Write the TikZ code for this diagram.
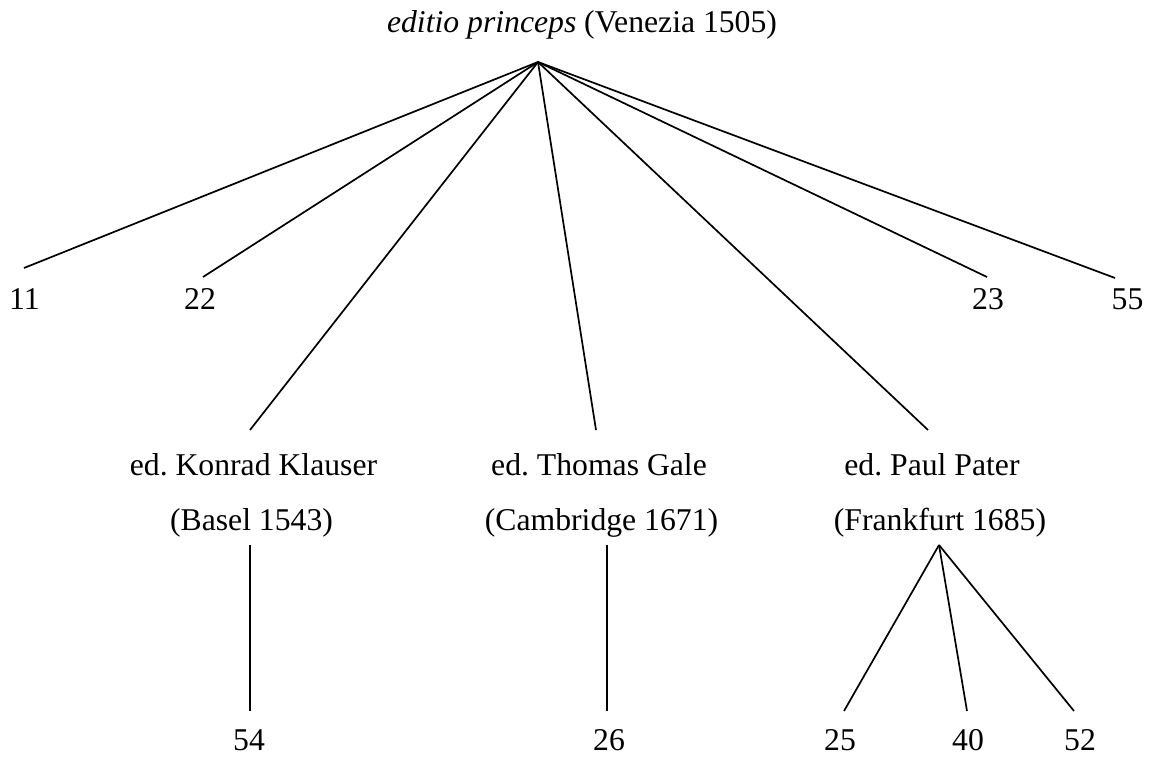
\documentclass[tikz,border=0pt]{standalone}
\usepackage{fontspec}
\setmainfont{Liberation Serif}
\frenchspacing
\begin{document}
\begin{tikzpicture}[x=1pt,y=-1pt,
  lbl/.style={anchor=base,inner sep=0pt,font=\fontsize{31.7}{38}\selectfont},
  edge/.style={line width=1.7pt,line cap=butt}]
\useasboundingbox (0,0) rectangle (1153,760);
% labels
\node[lbl] (root) at (582,33) {\textit{editio princeps} (Venezia 1505)};
\node[lbl] (n11) at (24.5,309) {11};
\node[lbl] (n22) at (200,309) {22};
\node[lbl] (n23) at (988,309) {23};
\node[lbl] (n55) at (1127.5,309) {55};
\node[lbl] (kA) at (253.5,475) {ed.\ Konrad Klauser};
\node[lbl] (kB) at (251.5,530) {(Basel 1543)};
\node[lbl] (gA) at (599,475) {ed.\ Thomas Gale};
\node[lbl] (gB) at (601.5,530) {(Cambridge 1671)};
\node[lbl] (pA) at (932,475) {ed.\ Paul Pater};
\node[lbl] (pB) at (940,530) {(Frankfurt 1685)};
\node[lbl] (n54) at (249,750) {54};
\node[lbl] (n26) at (609,750) {26};
\node[lbl] (n25) at (840,750) {25};
\node[lbl] (n40) at (968,750) {40};
\node[lbl] (n52) at (1080,750) {52};
% connector ends
\coordinate (apex) at (538,62);
\coordinate (e11) at (24,268);
\coordinate (e22) at (203,277);
\coordinate (ek) at (250,430);
\coordinate (eg) at (596,430);
\coordinate (ep) at (928,430);
\coordinate (e23) at (987,277);
\coordinate (e55) at (1115,278);
\coordinate (ks) at (250,545);
\coordinate (e54) at (250,711);
\coordinate (gs) at (607,545);
\coordinate (e26) at (607,711);
\coordinate (ps) at (939,545);
\coordinate (e25) at (844,711);
\coordinate (e40) at (967,711);
\coordinate (e52) at (1074,711);
% connectors
\foreach \t in {e11,e22,ek,eg,ep,e23,e55} \draw[edge] (apex) -- (\t);
\draw[edge] (ks) -- (e54);
\draw[edge] (gs) -- (e26);
\foreach \t in {e25,e40,e52} \draw[edge] (ps) -- (\t);
\end{tikzpicture}
\end{document}
